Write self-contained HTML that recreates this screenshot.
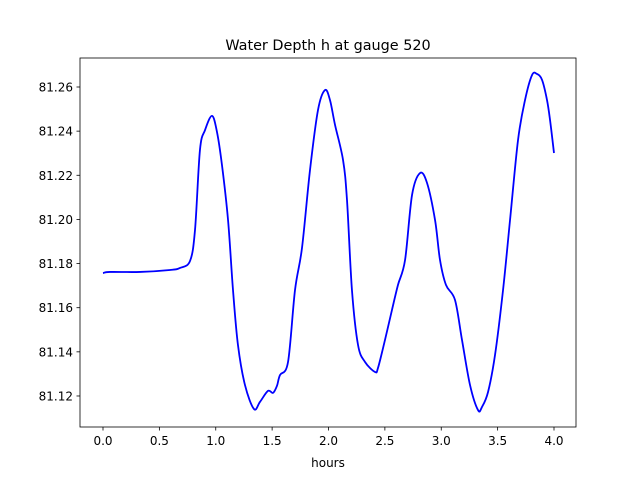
<!DOCTYPE html>
<html><head><meta charset="utf-8"><style>
body{margin:0;background:#fff}
svg text{font-family:"DejaVu Sans","Liberation Sans",sans-serif;fill:#000}
</style></head><body>
<svg id="chart" width="640" height="480" viewBox="0 0 640 480" xmlns="http://www.w3.org/2000/svg">
<rect width="640" height="480" fill="#fff"/>
<text x="328" y="50" font-size="14.4" text-anchor="middle">Water Depth h at gauge 520</text>
<g id="ticks"></g>
<path id="line" fill="none" stroke="#0000ff" stroke-width="1.8" stroke-linejoin="round"/>
<rect x="80" y="58" width="496" height="369" fill="none" stroke="#000" stroke-width="0.8"/>
<text x="328" y="467" font-size="12" text-anchor="middle">hours</text>
</svg>
<script>
const hours=[0,0.062,0.328,0.594,0.683,0.772,0.816,0.860,0.905,0.967,1.011,1.055,1.109,1.153,1.197,1.259,1.339,1.392,1.463,1.508,1.543,1.570,1.641,1.703,1.765,1.836,1.907,1.969,2.013,2.058,2.129,2.164,2.208,2.262,2.324,2.412,2.439,2.501,2.563,2.616,2.679,2.741,2.812,2.874,2.945,2.989,3.042,3.122,3.184,3.255,3.326,3.361,3.415,3.477,3.548,3.610,3.681,3.743,3.805,3.849,3.894,3.938,3.965,4.0];
const depth=[81.1757,81.1762,81.1762,81.1771,81.1780,81.1812,81.1952,81.2315,81.2405,81.2469,81.2396,81.2247,81.1997,81.1680,81.1431,81.1250,81.1141,81.1173,81.1223,81.1214,81.1246,81.1295,81.1354,81.1680,81.1871,81.2224,81.2496,81.2586,81.2541,81.2428,81.2269,81.2088,81.1680,81.1431,81.1354,81.1309,81.1327,81.1454,81.1590,81.1703,81.1816,81.2111,81.2210,81.2165,81.1997,81.1816,81.1703,81.1635,81.1454,81.1250,81.1136,81.1150,81.1218,81.1386,81.1680,81.1997,81.2360,81.2541,81.2654,81.2659,81.2632,81.2541,81.2450,81.2301];
const xTicks=[0,0.5,1,1.5,2,2.5,3,3.5,4];
const xTickLabels=["0.0","0.5","1.0","1.5","2.0","2.5","3.0","3.5","4.0"];
const yTicks=[81.12,81.14,81.16,81.18,81.20,81.22,81.24,81.26];
const yTickLabels=["81.12","81.14","81.16","81.18","81.20","81.22","81.24","81.26"];
const X=v=>103+v*112.75;
const Y=v=>87+(81.26-v)*2207;
const NS="http://www.w3.org/2000/svg";
const g=document.getElementById('ticks');
function mk(t,a){const e=document.createElementNS(NS,t);for(const k in a)e.setAttribute(k,a[k]);g.appendChild(e);return e;}
xTicks.forEach((v,i)=>{
 const l=mk('line',{x1:X(v),x2:X(v),y1:427,y2:430.5,stroke:'#000','stroke-width':0.8});
 
 
 const t=mk('text',{x:X(v),y:445,'font-size':12,'text-anchor':'middle'});t.textContent=xTickLabels[i];
 
 
});
yTicks.forEach((v,i)=>{
 const l=mk('line',{x1:76.5,x2:80,y1:Y(v),y2:Y(v),stroke:'#000','stroke-width':0.8});
 
 
 const t=mk('text',{x:73,y:Y(v)+4.5,'font-size':12,'text-anchor':'end'});t.textContent=yTickLabels[i];
 
 
});
const P=hours.map((h,i)=>[X(h),Y(depth[i])]);
let d='M'+P[0][0]+','+P[0][1];
for(let i=0;i<P.length-1;i++){
 const p0=P[Math.max(0,i-1)],p1=P[i],p2=P[i+1],p3=P[Math.min(P.length-1,i+2)];
 const c1=[p1[0]+(p2[0]-p0[0])/6,p1[1]+(p2[1]-p0[1])/6];
 const c2=[p2[0]-(p3[0]-p1[0])/6,p2[1]-(p3[1]-p1[1])/6];
 d+=` C${c1[0]},${c1[1]} ${c2[0]},${c2[1]} ${p2[0]},${p2[1]}`;
}
document.getElementById('line').setAttribute('d',d);
</script>
</body></html>
